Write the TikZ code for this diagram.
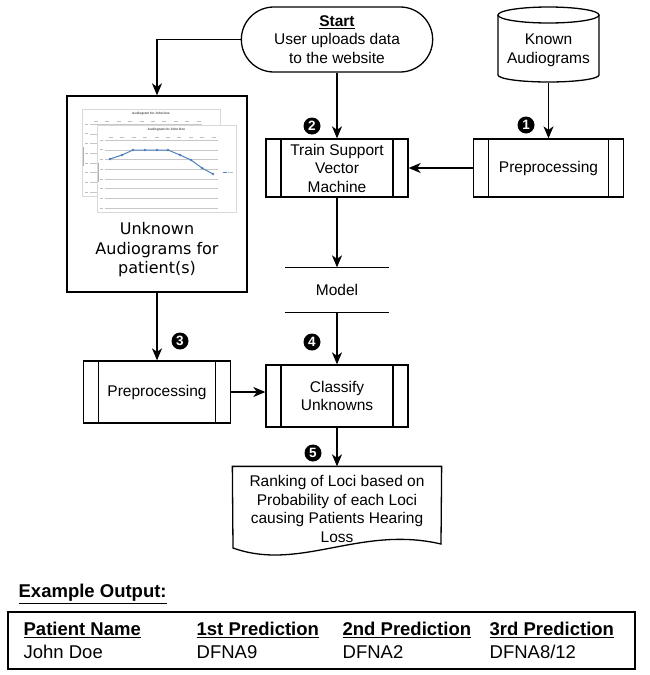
\documentclass[tikz,border=0pt]{standalone}
\usepackage{fontspec}
\setmainfont{Liberation Sans}
\newfontfamily\lucidafont{DejaVu Sans}
\usetikzlibrary{arrows.meta,shapes.misc}

\definecolor{excelblue}{RGB}{79,129,189}

\tikzset{
	flowtext/.style={font=\fontsize{15.5}{18.5}\selectfont, align=center},
	procbox/.style={flowtext, draw, inner ysep=1pt, minimum width=#1, minimum height=58pt, path picture={
		\draw[line width=1.3pt] ([xshift=15pt]path picture bounding box.north west) -- ([xshift=15pt]path picture bounding box.south west);
		\draw[line width=1.3pt] ([xshift=-15pt]path picture bounding box.north east) -- ([xshift=-15pt]path picture bounding box.south east);
	}},
	numdot/.style={circle, fill=black, text=white, inner sep=0pt, minimum size=17pt, font=\fontsize{13.5}{13.5}\selectfont\bfseries},
	flowarrow/.style={-{Stealth[length=12pt, width=10pt, inset=3.5pt]}},
	tabletext/.style={anchor=west, inner sep=0pt, font=\fontsize{18.5}{20}\selectfont},
}

\begin{document}
\begin{tikzpicture}[x=1pt, y=-1pt, line width=1.3pt]
	\useasboundingbox (0,0) rectangle (650,675);

	% \drawchart#x#y#width#height#name
	\def\drawchart#1#2#3#4#5{
		\filldraw[fill=white, draw=black!15, line width=.6pt] (#1, #2) rectangle (#1 + #3, #2 + #4);
		\foreach \k in {0, ..., 7} {
			\draw[black!22, line width=.4pt] (#1 + 8, #2 + 15 + 9.7 * \k) -- (#1 + #3 - 18, #2 + 15 + 9.7 * \k);
			\draw[black!25, line width=.6pt] (#1 + 3, #2 + 15 + 9.7 * \k) -- (#1 + 6, #2 + 15 + 9.7 * \k);
		}
		\foreach \k in {0, ..., 9} {
			\draw[black!25, line width=.6pt] (#1 + 12 + 11.4 * \k, #2 + 12) -- (#1 + 16 + 11.4 * \k, #2 + 12);
		}
		\draw[black!30, line width=.8pt] (#1 + 1.5, #2 + 38) -- (#1 + 1.5, #2 + 57);
		\node[inner sep=0pt, font=\fontsize{3.2}{3.2}\selectfont\bfseries, text=black!70] (#5title) at (#1 + #3 / 2, #2 + 5) {Audiogram for John Doe};
	}

	% start and known audiograms
	\node[flowtext, draw, rounded rectangle, minimum width=198pt, minimum height=65pt] (start) at (337, 39.5) {\underline{\textbf{Start}}\\User uploads data\\to the website};
	\node[flowtext, minimum width=101pt, minimum height=63pt] (known) at (548.5, 50.5) {Known\\Audiograms};
	\draw (498, 15) -- (498, 75) arc[start angle=180, end angle=0, x radius=50.5, y radius=7] -- (599, 15);
	\draw (548.5, 15) ellipse[x radius=50.5, y radius=8];

	% training
	\node[procbox=150pt] (prepknown) at (548.5, 168) {Preprocessing};
	\node[procbox=142pt] (svm) at (337, 168) {Train Support\\Vector\\Machine};
	\node[flowtext, minimum width=102pt, minimum height=44pt] (model) at (337, 290) {Model};
	\draw (model.north west) -- (model.north east) (model.south west) -- (model.south east);

	% unknown audiograms
	\node[draw, fill=white, minimum width=180pt, minimum height=196pt] (unknown) at (157, 194) {};
	\drawchart{82}{109}{138}{87}{back}
	\drawchart{97}{125}{139}{87}{front}
	\draw[excelblue, line width=1pt, mark=*, mark size=.7pt] plot coordinates {(110,159) (122,155) (133,150) (145,150) (157,150) (168,150) (180,155) (191,160) (202,168) (213,174)};
	\draw[excelblue, line width=.8pt] (223, 172) -- (227, 172);
	\draw[black!25, line width=.6pt] (228, 172) -- (233, 172);
	\node[font=\lucidafont\fontsize{16}{19.5}\selectfont, align=center] (unknowntext) at (157, 250) {Unknown\\Audiograms for\\patient(s)};

	% classification
	\node[procbox=147pt, minimum height=62pt] (prepunknown) at (157, 392) {Preprocessing};
	\node[procbox=142pt, minimum height=62pt] (classify) at (337, 396) {Classify\\Unknowns};
	\node[flowtext, minimum width=208pt, minimum height=84pt] (ranking) at (337, 509) {Ranking of Loci based on\\Probability of each Loci\\causing Patients Hearing\\Loss};
	\draw (233, 548) -- (ranking.north west) -- (ranking.north east) -- (441, 544) .. controls (360, 525) and (300, 572) .. cycle;

	% arrows
	\draw[flowarrow] (start.west) -| (unknown.north);
	\draw[flowarrow] (start.south) -- (svm.north);
	\draw[flowarrow] (known.south) -- (prepknown.north);
	\draw[flowarrow] (prepknown.west) -- (svm.east);
	\draw[flowarrow] (svm.south) -- (model.north);
	\draw[flowarrow] (model.south) -- (classify.north);
	\draw[flowarrow] (unknown.south) -- (prepunknown.north);
	\draw[flowarrow] (prepunknown.east) -- (prepunknown.east -| classify.west);
	\draw[flowarrow] (classify.south) -- (ranking.north);

	% step numbers
	\foreach \n/\x/\y in {1/526/125, 2/312/126, 3/180/341, 4/312/342, 5/313/453} {
		\node[numdot] (num\n) at (\x, \y) {\n};
	}

	% example output
	\node[tabletext, font=\fontsize{18.5}{20}\selectfont\bfseries] (example) at (18, 594) {\underline{Example Output:}};
	\node[draw, minimum width=627pt, minimum height=57pt] (table) at (321.5, 640.5) {};
	\foreach \x/\head/\val in {23/Patient Name/John Doe, 196/1st Prediction/DFNA9, 342/2nd Prediction/DFNA2, 489/3rd Prediction/{DFNA8/12}} {
		\node[tabletext, font=\fontsize{18.5}{20}\selectfont\bfseries] (head\x) at (\x, 630) {\underline{\head}};
		\node[tabletext] (val\x) at (\x, 652) {\val};
	}
\end{tikzpicture}
\end{document}
